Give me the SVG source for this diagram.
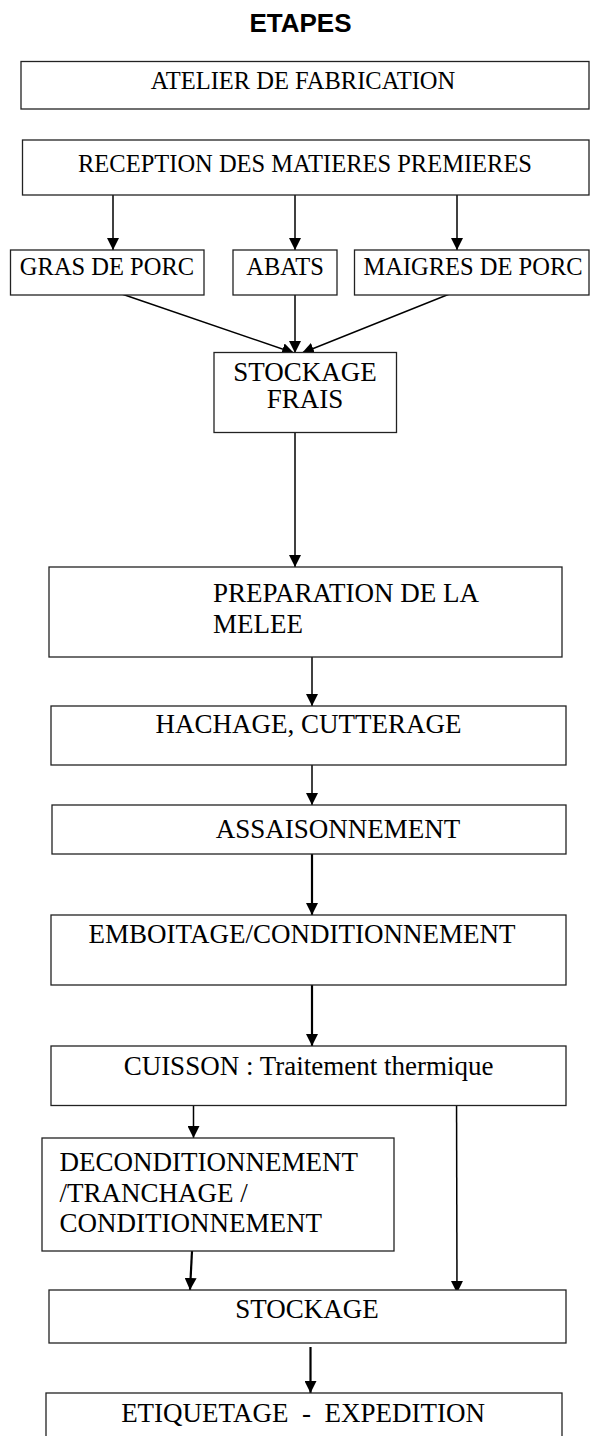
<svg xmlns="http://www.w3.org/2000/svg" width="590" height="1436" viewBox="0 0 590 1436">
<style>
.box{fill:#fff;stroke:#222;stroke-width:1.3}
.t{font-family:"Liberation Serif","Times New Roman",serif;font-size:27px;fill:#000}
.s{font-size:24.5px}
.c{stroke:#000;stroke-width:1.5;fill:none;marker-end:url(#ah)}
.w{stroke-width:2.2}
</style>
<defs>
<marker id="ah" markerUnits="userSpaceOnUse" markerWidth="12" markerHeight="12" refX="12" refY="6" orient="auto">
<path d="M0,0 L12,6 L0,12 z" fill="#000"/>
</marker>
</defs>
<rect width="590" height="1436" fill="#fff"/>
<text x="300.5" y="32" text-anchor="middle" font-family="Liberation Sans,Arial,sans-serif" font-weight="bold" font-size="26">ETAPES</text>

<g id="connectors">
<line class="c" x1="113" y1="190" x2="113" y2="250"/>
<line class="c" x1="295" y1="190" x2="295" y2="250"/>
<line class="c" x1="457" y1="190" x2="457" y2="250"/>
<line class="c" x1="113" y1="291" x2="294" y2="353"/>
<line class="c" x1="295" y1="291" x2="295" y2="353"/>
<line class="c" x1="457" y1="291" x2="302" y2="353"/>
<line class="c" x1="295" y1="433" x2="295" y2="567"/>
<line class="c" x1="312" y1="646" x2="312" y2="706"/>
<line class="c" x1="312" y1="764" x2="312" y2="805"/>
<line class="c w" x1="312" y1="854" x2="312" y2="915"/>
<line class="c w" x1="312" y1="967" x2="312" y2="1046"/>
<line class="c" x1="193.5" y1="1104" x2="193.5" y2="1138"/>
<line class="c" x1="456.5" y1="1082" x2="457" y2="1293"/>
<line class="c w" x1="192" y1="1251" x2="190" y2="1290"/>
<line class="c w" x1="310.5" y1="1347" x2="310.5" y2="1393"/>
</g>

<g id="atelier"><rect class="box" x="21" y="61.5" width="568" height="47.5"/><text class="t s" x="303" y="88.5" text-anchor="middle">ATELIER DE FABRICATION</text></g>
<g id="reception"><rect class="box" x="22.5" y="140" width="566.5" height="55"/><text class="t s" x="305" y="172" text-anchor="middle">RECEPTION DES MATIERES PREMIERES</text></g>
<g id="gras"><rect class="box" x="10.5" y="250" width="193.5" height="45"/><text class="t s" x="107" y="275" text-anchor="middle">GRAS DE PORC</text></g>
<g id="abats"><rect class="box" x="233" y="250" width="104" height="45"/><text class="t s" x="285" y="275" text-anchor="middle">ABATS</text></g>
<g id="maigres"><rect class="box" x="354.5" y="250" width="234.5" height="45"/><text class="t s" x="473" y="275" text-anchor="middle">MAIGRES DE PORC</text></g>
<g id="stockage-frais"><rect class="box" x="214" y="352.5" width="182.5" height="80"/><text class="t" x="305" y="380.5" text-anchor="middle" font-size="21">STOCKAGE</text><text class="t" x="305" y="408" text-anchor="middle" font-size="21">FRAIS</text></g>
<g id="preparation"><rect class="box" x="49" y="567" width="513" height="90"/><text class="t" x="213" y="602">PREPARATION DE LA</text><text class="t" x="213" y="633">MELEE</text></g>
<g id="hachage"><rect class="box" x="51" y="706" width="515" height="59"/><text class="t" x="308.5" y="733" text-anchor="middle">HACHAGE, CUTTERAGE</text></g>
<g id="assaisonnement"><rect class="box" x="52" y="805" width="514" height="49"/><text class="t" x="338" y="838" text-anchor="middle">ASSAISONNEMENT</text></g>
<g id="emboitage"><rect class="box" x="51" y="915" width="515" height="70"/><text class="t" x="302" y="943" text-anchor="middle">EMBOITAGE/CONDITIONNEMENT</text></g>
<g id="cuisson"><rect class="box" x="51" y="1046" width="515" height="59.5"/><text class="t" x="308.5" y="1074.5" text-anchor="middle">CUISSON : Traitement thermique</text></g>
<g id="deconditionnement"><rect class="box" x="42" y="1138" width="352" height="113"/><text class="t" x="59.5" y="1171">DECONDITIONNEMENT</text><text class="t" x="59.5" y="1202">/TRANCHAGE /</text><text class="t" x="59.5" y="1232">CONDITIONNEMENT</text></g>
<g id="stockage"><rect class="box" x="49" y="1290" width="517" height="53"/><text class="t" x="307" y="1318" text-anchor="middle">STOCKAGE</text></g>
<g id="etiquetage"><rect class="box" x="46" y="1393" width="516" height="60"/><text class="t" x="303" y="1422" text-anchor="middle" xml:space="preserve">ETIQUETAGE  -  EXPEDITION</text></g>
</svg>
